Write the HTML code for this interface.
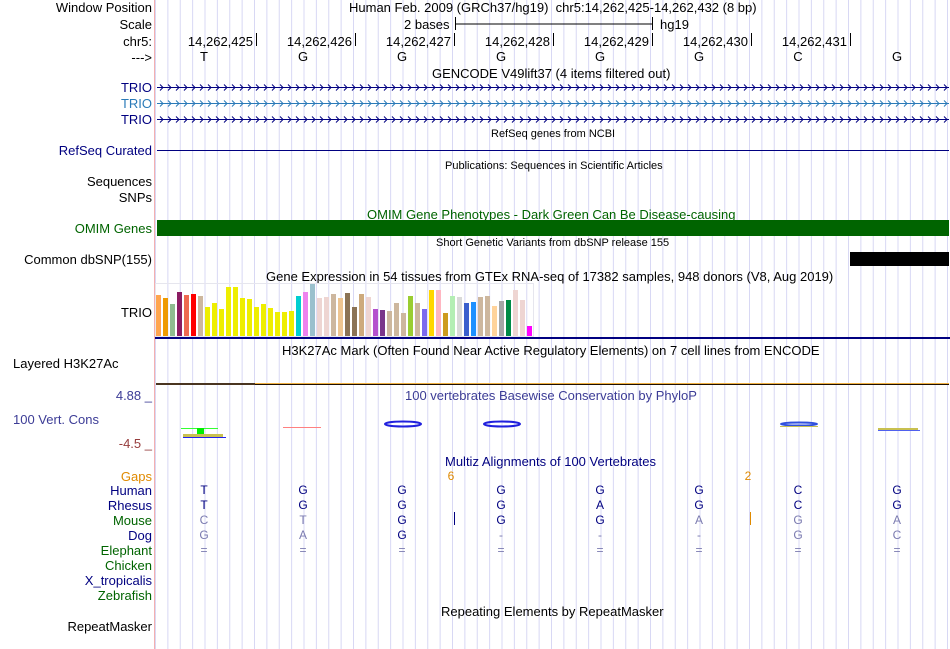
<!DOCTYPE html>
<html><head><meta charset="utf-8"><style>
body{margin:0;width:950px;height:649px;background:#fff;overflow:hidden;position:relative;font-family:"Liberation Sans",sans-serif;font-size:13px;color:#000}
.t{position:absolute;white-space:nowrap;line-height:15px}
.r{text-align:right;width:152px;left:0}
.s{font-size:11px}
.nv{color:#000080}.gr{color:#006400}
#grid{position:absolute;left:0;top:0}
</style></head><body>
<svg id="grid" width="950" height="649"></svg>

<div class="t r" style="top:0">Window Position</div>
<div class="t r" style="top:17px">Scale</div>
<div class="t r" style="top:34px">chr5:</div>
<div class="t r" style="top:50px">---&gt;</div>
<div class="t" style="left:349px;top:0">Human Feb. 2009 (GRCh37/hg19)&nbsp;&nbsp;chr5:14,262,425-14,262,432 (8 bp)</div>
<div class="t" style="left:404px;top:17px">2 bases</div>
<div class="t" style="left:660px;top:17px">hg19</div>
<div class="t" style="left:432px;top:66px">GENCODE V49lift37 (4 items filtered out)</div>
<div class="t r nv" style="top:80px">TRIO</div>
<div class="t r" style="top:96px;color:#2a7ab8">TRIO</div>
<div class="t r nv" style="top:112px">TRIO</div>
<div class="t s" style="left:491px;top:127px">RefSeq genes from NCBI</div>
<div class="t r nv" style="top:143px">RefSeq Curated</div>
<div class="t s" style="left:445px;top:159px">Publications: Sequences in Scientific Articles</div>
<div class="t r" style="top:174px">Sequences</div>
<div class="t r" style="top:190px">SNPs</div>
<div class="t gr" style="left:367px;top:207px">OMIM Gene Phenotypes - Dark Green Can Be Disease-causing</div>
<div class="t r gr" style="top:221px">OMIM Genes</div>
<div class="t s" style="left:436px;top:236px">Short Genetic Variants from dbSNP release 155</div>
<div class="t r" style="top:252px">Common dbSNP(155)</div>
<div class="t" style="left:266px;top:269px">Gene Expression in 54 tissues from GTEx RNA-seq of 17382 samples, 948 donors (V8, Aug 2019)</div>
<div class="t r" style="top:305px">TRIO</div>
<div class="t" style="left:282px;top:343px">H3K27Ac Mark (Often Found Near Active Regulatory Elements) on 7 cell lines from ENCODE</div>
<div class="t" style="left:13px;top:356px">Layered H3K27Ac</div>
<div class="t r" style="top:388px;color:#3c3c96">4.88 _</div>
<div class="t" style="left:405px;top:388px;color:#3c3c96">100 vertebrates Basewise Conservation by PhyloP</div>
<div class="t" style="left:13px;top:412px;color:#3c3c96">100 Vert. Cons</div>
<div class="t r" style="top:436px;color:#963c3c">-4.5 _</div>
<div class="t nv" style="left:445px;top:454px">Multiz Alignments of 100 Vertebrates</div>
<div class="t r" style="top:469px;color:#e08a00">Gaps</div>
<div class="t r nv" style="top:483px">Human</div>
<div class="t r nv" style="top:498px">Rhesus</div>
<div class="t r gr" style="top:513px">Mouse</div>
<div class="t r nv" style="top:528px">Dog</div>
<div class="t r gr" style="top:543px">Elephant</div>
<div class="t r gr" style="top:558px">Chicken</div>
<div class="t r nv" style="top:573px">X_tropicalis</div>
<div class="t r gr" style="top:588px">Zebrafish</div>
<div class="t" style="left:441px;top:604px">Repeating Elements by RepeatMasker</div>
<div class="t r" style="top:619px">RepeatMasker</div>

<svg id="main" width="950" height="649" style="position:absolute;left:0;top:0"></svg>

<script>
const positions=["14,262,425","14,262,426","14,262,427","14,262,428","14,262,429","14,262,430","14,262,431"];
const refBases=["T","G","G","G","G","G","C","G"];
const human=["T","G","G","G","G","G","C","G"];
const rhesus=["T","G","G","G","A","G","C","G"];
const mouse=["C","T","G","G","G","A","G","A"];
const dog=["G","A","G","-","-","-","G","C"];
const elephant=["=","=","=","=","=","=","=","="];
const gaps=[{after:2,n:"6"},{after:5,n:"2"}];
const gtexValues=[41,38,32,44,41,42,40,29,33,27,49,49,38,37,29,32,28,24,24,25,40,44,52,38,39,42,38,43,29,42,39,27,26,25,33,23,40,33,27,46,46,23,40,39,33,34,39,40,30,35,36,46,36,10];
const gtexColors=["#FFA54F","#EE9A00","#8FBC8F","#8B1C62","#EE6A50","#FF0000","#CDB79E","#EEEE00","#EEEE00","#EEEE00","#EEEE00","#EEEE00","#EEEE00","#EEEE00","#EEEE00","#EEEE00","#EEEE00","#EEEE00","#EEEE00","#EEEE00","#00CED1","#EE82EE","#9AC0CD","#EED5D2","#EED5D2","#CDB79E","#EEC591","#8B7355","#8B7355","#CDAA7D","#EED5D2","#B452CD","#7A378B","#CDB79E","#CDB79E","#CDB79E","#9ACD32","#CDB79E","#7B68EE","#FFD700","#FFB6C1","#CD9B1D","#B4EEB4","#D9D9D9","#3A5FCD","#1E90FF","#CDB79E","#CDB79E","#FFD39B","#A6A6A6","#008B45","#EED5D2","#EED5D2","#FF00FF"];
const NS="http://www.w3.org/2000/svg";
function mk(p,tag,a){const e=document.createElementNS(NS,tag);for(const k in a)e.setAttribute(k,a[k]);p.appendChild(e);return e;}
const baseX=i=>204+i*99;
const g=document.getElementById('grid');
for(let x=155.5;x<950;x+=12.375){const l=mk(g,'line',{x1:x,x2:x,y1:0,y2:649,stroke:'#d8d8f4','stroke-width':1});

}
mk(g,'line',{x1:154.5,x2:154.5,y1:0,y2:649,stroke:'#f4b0b0'});
const s=document.getElementById('main');
function txt(x,y,t,fill,anchor,size){const e=mk(s,'text',{x:x,y:y,fill:fill||'#000','text-anchor':anchor||'middle','font-size':size||13,'font-family':'Liberation Sans, sans-serif'});e.textContent=t;return e;}
mk(s,'path',{d:'M455.5 17V30M455.5 24H652.5M652.5 17V30',stroke:'#000',fill:'none'});
positions.forEach((p,i)=>{const x=baseX(i)+52;const e=txt(x-3,46,p,'#000','end');


mk(s,'line',{x1:x+0.5,x2:x+0.5,y1:33,y2:46,stroke:'#000'});});
refBases.forEach((b,i)=>{const e=txt(baseX(i),61,b);

});
[[87,'#000080'],[103,'#2a7ab8'],[119,'#000080']].forEach(([y,c])=>{
 mk(s,'line',{x1:157,x2:949,y1:y+0.5,y2:y+0.5,stroke:c});
 let d='';for(let x=160;x<948;x+=8)d+=`M${x} ${y-2.5}L${x+3} ${y+0.5}L${x} ${y+3.5}`;
 mk(s,'path',{d:d,stroke:c,fill:'none','stroke-width':1});});
mk(s,'line',{x1:157,x2:949,y1:150.5,y2:150.5,stroke:'#000080'});
mk(s,'rect',{x:157,y:220,width:792,height:16,fill:'#006400'});
mk(s,'rect',{x:850,y:252,width:99,height:14,fill:'#000'});
const gBase=336,gScale=1.0;
mk(s,'rect',{x:155.5,y:283.5,width:378,height:53,fill:'none',stroke:'#e6e6ee'});
gtexValues.forEach((v,i)=>{const r=mk(s,'rect',{x:156+i*7,y:gBase-v*gScale,width:5,height:v*gScale,fill:gtexColors[i]});

});
mk(s,'rect',{x:155,y:337,width:795,height:2,fill:'#000080'});
mk(s,'rect',{x:156,y:383,width:99,height:2,fill:'#4a3520'});
mk(s,'rect',{x:255,y:383,width:694,height:1,fill:'#f0b040'});
mk(s,'rect',{x:255,y:384,width:694,height:1,fill:'#201000'});
mk(s,'rect',{x:181,y:428,width:37,height:1,fill:'#33ff33'});
mk(s,'rect',{x:197,y:428,width:7,height:6,fill:'#00ee00'});
mk(s,'rect',{x:183,y:434,width:40,height:3,fill:'#c8c050'});
mk(s,'rect',{x:183,y:437,width:43,height:1,fill:'#2020ee'});
mk(s,'rect',{x:283,y:427,width:38,height:1,fill:'#ff8080'});
[[383,40],[482,40]].forEach(([x,w])=>{mk(s,'ellipse',{cx:x+w/2,cy:424,rx:w/2-2,ry:2.5,fill:'none',stroke:'#2020dd','stroke-width':2});});
mk(s,'ellipse',{cx:799,cy:424,rx:18,ry:1.5,fill:'none',stroke:'#3050dd','stroke-width':2});
mk(s,'rect',{x:780,y:426,width:38,height:1,fill:'#c8c050'});
mk(s,'rect',{x:878,y:428,width:40,height:2,fill:'#c8c050'});
mk(s,'rect',{x:878,y:430,width:42,height:1,fill:'#5060ee'});
gaps.forEach(gp=>{const x=baseX(gp.after)+49;const e=txt(x,480,gp.n,'#e08a00','middle',12);

});
function row(arr,y,name){arr.forEach((b,i)=>{const match=(b===human[i]);const c=(name==='human'||name==='rhesus')?'#000080':(match?'#000080':'#7b7bb0');
const e=txt(baseX(i),y,b,c,'middle',12);

});}
row(human,494,'human');row(rhesus,509,'rhesus');row(mouse,524,'mouse');row(dog,539,'dog');
elephant.forEach((b,i)=>{const e=txt(baseX(i),554,b,'#7b7bb0','middle',12);

});
mk(s,'line',{x1:454.5,x2:454.5,y1:512,y2:525,stroke:'#000080'});
mk(s,'line',{x1:750.5,x2:750.5,y1:512,y2:525,stroke:'#e08a00'});
</script>
</body></html>
